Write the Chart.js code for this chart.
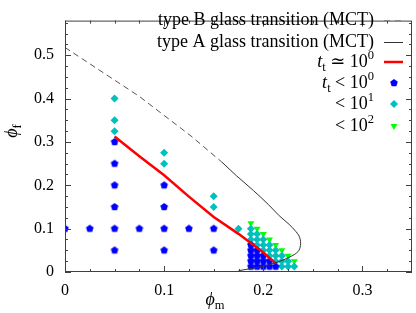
<!DOCTYPE html>
<html>
<head>
<meta charset="utf-8">
<script src="https://cdn.jsdelivr.net/npm/chart.js@4.4.1/dist/chart.umd.min.js"></script>
<style>
html, body { margin: 0; padding: 0; background: #fff; }
canvas { display: block; }
</style>
</head>
<body>
<canvas id="c" width="416" height="313"></canvas>
<script>
// === data ===
const typeBPhiM = [0, 0.075, 0.127, 0.158];
const typeBPhiF = [0.518, 0.405, 0.314, 0.254];

const typeAPhiM = [0.158, 0.173, 0.19, 0.205, 0.216, 0.226, 0.233, 0.2368, 0.2375, 0.235, 0.228, 0.218, 0.205, 0.19, 0.175];
const typeAPhiF = [0.254, 0.222, 0.188, 0.156, 0.13, 0.11, 0.093, 0.079, 0.061, 0.047, 0.036, 0.026, 0.016, 0.009, 0.003];

const redPhiM = [0.05, 0.075, 0.1, 0.125, 0.15, 0.175, 0.2, 0.2125];
const redPhiF = [0.3125, 0.267, 0.223, 0.174, 0.127, 0.088, 0.045, 0.02];

// t_t < 10^0
const fastPhiM = [0, 0.025, 0.05, 0.05, 0.05, 0.05, 0.05, 0.05, 0.075, 0.1, 0.1, 0.1, 0.1, 0.125, 0.15, 0.15,
    0.1875, 0.1875, 0.1875, 0.1875, 0.1875, 0.19375, 0.19375, 0.19375, 0.19375, 0.2, 0.2, 0.2, 0.20625, 0.20625, 0.2125];
const fastPhiF = [0.1, 0.1, 0.05, 0.1, 0.15, 0.2, 0.25, 0.3, 0.1, 0.05, 0.1, 0.15, 0.2, 0.1, 0.05, 0.1,
    0.0125, 0.025, 0.0375, 0.05, 0.0625, 0.0125, 0.025, 0.0375, 0.05, 0.0125, 0.025, 0.0375, 0.0125, 0.025, 0.0125];

// < 10^1
const midPhiM = [0.05, 0.05, 0.05, 0.1, 0.1, 0.15, 0.15, 0.175,
    0.1875, 0.1875, 0.1875, 0.19375, 0.19375, 0.19375, 0.2, 0.2, 0.2, 0.20625, 0.20625, 0.20625,
    0.2125, 0.2125, 0.2125, 0.21875, 0.21875, 0.21875, 0.225, 0.225, 0.23125];
const midPhiF = [0.325, 0.35, 0.4, 0.25, 0.275, 0.15, 0.175, 0.1,
    0.075, 0.0875, 0.1, 0.0625, 0.075, 0.0875, 0.05, 0.0625, 0.075, 0.0375, 0.05, 0.0625,
    0.025, 0.0375, 0.05, 0.0125, 0.025, 0.0375, 0.0125, 0.025, 0.0125];

// < 10^2
const slowPhiM = [0.1875, 0.19375, 0.2, 0.20625, 0.2125, 0.21875, 0.225, 0.23125];
const slowPhiF = [0.1125, 0.1, 0.0875, 0.075, 0.0625, 0.05, 0.0375, 0.025];

const xMinorTicks = [0.025, 0.05, 0.075, 0.125, 0.15, 0.175, 0.225, 0.25, 0.275, 0.325];
const yMinorTicks = [0.025, 0.05, 0.075, 0.125, 0.15, 0.175, 0.225, 0.25, 0.275, 0.325, 0.35, 0.375,
    0.425, 0.45, 0.475, 0.525, 0.55, 0.575];

const SERIF = "'Liberation Serif', 'DejaVu Serif', serif";

function pts(xs, ys) {
    return xs.map((x, i) => ({ x: x, y: ys[i] }));
}

// pentagon marker
function makePentagon(r, color) {
    const c = document.createElement('canvas');
    const s = Math.ceil(r * 2) + 2;
    c.width = s; c.height = s;
    const g = c.getContext('2d');
    g.fillStyle = color;
    g.beginPath();
    for (let i = 0; i < 5; i++) {
        const a = -Math.PI / 2 + i * 2 * Math.PI / 5;
        const px = s / 2 + r * Math.cos(a), py = s / 2 + r * Math.sin(a);
        if (i === 0) g.moveTo(px, py); else g.lineTo(px, py);
    }
    g.closePath();
    g.fill();
    return c;
}
const pentagon = makePentagon(4, '#0000ff');

function fmt(v) {
    const r = Math.round(v * 10) / 10;
    return r === 0 ? '0' : r.toFixed(1);
}

// mixed text (sub/superscripts)
function drawRich(ctx, parts, x, y, align) {
    let total = 0;
    parts.forEach(p => { ctx.font = p.font; p.w = ctx.measureText(p.text).width; total += p.w; });
    let cx = align === 'right' ? x - total : (align === 'center' ? x - total / 2 : x);
    parts.forEach(p => {
        ctx.font = p.font;
        ctx.fillText(p.text, cx, y + (p.dy || 0));
        cx += p.w;
    });
}

const big = '18px ' + SERIF;
const bigIt = 'italic 18px ' + SERIF;
const small = '12.5px ' + SERIF;

const framePlugin = {
    id: 'frame',
    afterDraw(chart) {
        const ctx = chart.ctx;
        const a = chart.chartArea;
        const xs = chart.scales.x, ys = chart.scales.y;
        ctx.save();
        ctx.strokeStyle = '#404040';
        ctx.lineWidth = 1;
        ctx.strokeRect(a.left + 0.5, a.top + 0.5, a.right - a.left - 1, a.bottom - a.top - 1);

        ctx.beginPath();
        const tick = (v, len, isX) => {
            if (isX) {
                const p = Math.round(xs.getPixelForValue(v)) + 0.5;
                ctx.moveTo(p, a.bottom); ctx.lineTo(p, a.bottom - len);
                ctx.moveTo(p, a.top); ctx.lineTo(p, a.top + len);
            } else {
                const p = Math.round(ys.getPixelForValue(v)) + 0.5;
                ctx.moveTo(a.left, p); ctx.lineTo(a.left + len, p);
                ctx.moveTo(a.right, p); ctx.lineTo(a.right - len, p);
            }
        };
        xs.ticks.forEach(t => tick(t.value, 6, true));
        xMinorTicks.forEach(v => tick(v, 3, true));
        ys.ticks.forEach(t => tick(t.value, 6, false));
        yMinorTicks.forEach(v => tick(v, 3, false));
        ctx.stroke();

        // axis titles
        ctx.fillStyle = '#000';
        ctx.textBaseline = 'alphabetic';
        drawRich(ctx, [
            { text: 'ϕ', font: bigIt },
            { text: 'm', font: small, dy: 4 }
        ], 215, 305, 'center');
        ctx.save();
        ctx.translate(17, 131);
        ctx.rotate(-Math.PI / 2);
        drawRich(ctx, [
            { text: 'ϕ', font: bigIt },
            { text: 'f', font: small, dy: 4 }
        ], 0, 0, 'center');
        ctx.restore();

        // legend
        const tx = 374, sx0 = 384, sx1 = 403, mx = 394;
        const rows = [20, 42, 62, 83, 104, 126];
        drawRich(ctx, [{ text: 'type B glass transition (MCT)', font: big }], tx, rows[0] + 5, 'right');
        drawRich(ctx, [{ text: 'type A glass transition (MCT)', font: big }], tx, rows[1] + 5, 'right');
        drawRich(ctx, [
            { text: 't', font: bigIt }, { text: 't', font: small, dy: 4 },
            { text: ' ≃ 10', font: big }, { text: '0', font: small, dy: -8 }
        ], tx, rows[2] + 5, 'right');
        drawRich(ctx, [
            { text: 't', font: bigIt }, { text: 't', font: small, dy: 4 },
            { text: ' < 10', font: big }, { text: '0', font: small, dy: -8 }
        ], tx, rows[3] + 5, 'right');
        drawRich(ctx, [
            { text: '< 10', font: big }, { text: '1', font: small, dy: -8 }
        ], tx, rows[4] + 5, 'right');
        drawRich(ctx, [
            { text: '< 10', font: big }, { text: '2', font: small, dy: -8 }
        ], tx, rows[5] + 5, 'right');

        ctx.lineWidth = 1;
        ctx.strokeStyle = '#888';
        ctx.setLineDash([6, 5]);
        ctx.beginPath(); ctx.moveTo(sx0, rows[0] + 0.5); ctx.lineTo(sx1, rows[0] + 0.5); ctx.stroke();
        ctx.setLineDash([]);
        ctx.strokeStyle = '#333';
        ctx.beginPath(); ctx.moveTo(sx0, rows[1] + 0.5); ctx.lineTo(sx1, rows[1] + 0.5); ctx.stroke();
        ctx.strokeStyle = '#ff0000';
        ctx.lineWidth = 2.5;
        ctx.beginPath(); ctx.moveTo(sx0, rows[2]); ctx.lineTo(sx1, rows[2]); ctx.stroke();
        ctx.drawImage(pentagon, mx - pentagon.width / 2, rows[3] - pentagon.height / 2);
        ctx.fillStyle = '#00bfbf';
        Chart.helpers.drawPoint(ctx, { pointStyle: 'rectRot', radius: 4, rotation: 0, borderWidth: 0 }, mx, rows[4]);
        ctx.fillStyle = '#00ff00';
        Chart.helpers.drawPoint(ctx, { pointStyle: 'triangle', radius: 4, rotation: 180, borderWidth: 0 }, mx, rows[5]);
        ctx.restore();
    }
};

const tickFont = { family: SERIF, size: 16 };

new Chart(document.getElementById('c').getContext('2d'), {
    type: 'scatter',
    data: {
        datasets: [
            {
                data: pts(typeBPhiM, typeBPhiF), showLine: true, borderColor: '#555',
                borderWidth: 1, borderDash: [6, 4], pointRadius: 0, tension: 0
            },
            {
                data: pts(typeAPhiM, typeAPhiF), showLine: true, borderColor: '#333',
                borderWidth: 1, pointRadius: 0, tension: 0.35
            },
            {
                data: pts(redPhiM, redPhiF), showLine: true, borderColor: '#ff0000',
                borderWidth: 2.5, pointRadius: 0, tension: 0
            },
            {
                data: pts(fastPhiM, fastPhiF), pointStyle: pentagon, pointRadius: 4,
                backgroundColor: '#0000ff', borderWidth: 0
            },
            {
                data: pts(midPhiM, midPhiF), pointStyle: 'rectRot', pointRadius: 4,
                backgroundColor: '#00bfbf', borderWidth: 0
            },
            {
                data: pts(slowPhiM, slowPhiF), pointStyle: 'triangle', rotation: 180, pointRadius: 4,
                backgroundColor: '#00ff00', borderWidth: 0
            }
        ]
    },
    options: {
        responsive: false,
        animation: false,
        devicePixelRatio: 1,
        events: [],
        layout: { padding: { top: 1, right: 1, left: 0, bottom: 0 } },
        plugins: { legend: { display: false }, tooltip: { enabled: false } },
        scales: {
            x: {
                type: 'linear', min: 0, max: 0.35,
                afterFit: s => { s.height = 41; },
                grid: { display: false, drawTicks: false },
                border: { display: false },
                ticks: {
                    stepSize: 0.1, includeBounds: false, padding: 9, color: '#000',
                    font: tickFont, maxRotation: 0, autoSkip: false, callback: v => fmt(v)
                }
            },
            y: {
                type: 'linear', min: 0, max: 0.58,
                afterFit: s => { s.width = 65; },
                grid: { display: false, drawTicks: false },
                border: { display: false },
                ticks: {
                    stepSize: 0.1, includeBounds: false, padding: 11, color: '#000',
                    font: tickFont, autoSkip: false, callback: v => fmt(v)
                }
            }
        }
    },
    plugins: [framePlugin]
});
</script>
</body>
</html>
